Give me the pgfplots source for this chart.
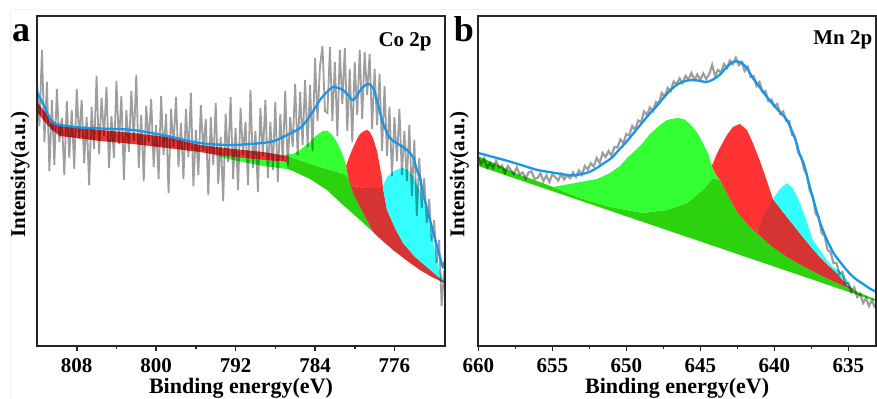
\documentclass[border=0pt]{standalone}
\usepackage{fontspec}
\setmainfont{Liberation Serif}
\usepackage{pgfplots}
\pgfplotsset{compat=1.18}
\definecolor{lgreen}{RGB}{51,255,51}
\definecolor{dgreen}{RGB}{45,210,15}
\definecolor{bred}{RGB}{255,51,51}
\definecolor{dred}{RGB}{214,51,51}
\definecolor{bcyan}{RGB}{51,255,255}
\definecolor{bandred}{RGB}{240,52,52}
\definecolor{datagray}{RGB}{158,158,158}
\definecolor{fitblue}{RGB}{25,150,230}
\pgfplotsset{xps/.style={
  scale only axis, height=165pt, ymin=0, ymax=330, ytick=\empty,
  x dir=reverse, axis on top,
  axis line style={black!85, line width=0.9pt},
  tick pos=left, tick align=outside,
  major tick length=2.6pt, minor tick length=1.6pt,
  every tick/.style={black!85, line width=0.8pt},
  minor x tick num=1,
  /pgf/number format/assume math mode=true,
  xticklabel style={font=\fontsize{10.5}{12}\selectfont\bfseries},
  xlabel={Binding energy(eV)},
  xlabel style={font=\fontsize{11}{13}\selectfont\bfseries, at={(axis description cs:0.5,0)}, anchor=center, yshift=-21pt},
  ylabel={Intensity(a.u.)},
  ylabel style={font=\fontsize{10.5}{12}\selectfont\bfseries, at={(axis description cs:0,0.52)}, anchor=center},
}}
\begin{document}
\begin{tikzpicture}
\path[use as bounding box] (0,0) rectangle (438.5pt,199.5pt);
\draw[gray!12, line width=0.5pt] (5pt,0) -- (5pt,194.5pt) -- (438.5pt,194.5pt);
% ---------------- panel a ----------------
\begin{axis}[xps, at={(18.5pt,26.5pt)}, anchor=south west, width=204pt,
  xmin=770.91, xmax=812, xtick={808,800,792,784,776},
  ylabel style={yshift=8.5pt}]
% red band
\addplot[fill=bandred, draw=none] coordinates {
(812.00,244) (811.19,234) (810.49,226) (809.68,220) (805.66,216) (802.33,213) (798.91,209) (795.59,201) (792.26,197) (789.24,194) (786.82,190)
(786.82,184) (789.24,186) (792.26,189) (793.87,191) (795.59,194) (798.91,198) (802.33,202) (805.66,205) (809.68,210) (810.49,216) (811.19,224) (812.00,234)};
% green strip
\addplot[fill=lgreen, draw=none] coordinates {
(793.87,191) (792.26,189) (789.24,186) (786.82,184) (786.82,177) (789.24,180) (792.26,186) (793.87,190)};
% dark green
\addplot[fill=dgreen, draw=none] coordinates {
(786.82,190) (786.22,188) (783.80,180) (781.79,174) (780.88,171) (780.58,167)
(780.18,153) (779.47,139) (778.77,126) (778.16,114)
(779.47,126) (781.29,142) (782.80,156) (784.51,167) (786.22,175) (786.82,177)};
% bright green peak
\addplot[fill=lgreen, draw=none] coordinates {
(787.23,191) (786.22,192) (785.51,196) (784.51,204) (783.80,211) (783.20,215) (782.70,215) (782.19,210) (781.69,202) (781.29,193) (780.98,184) (780.78,175) (780.58,167)
(780.88,171) (781.79,174) (783.80,180) (786.22,188) (787.23,191)};
% bright red peak
\addplot[fill=bred, draw=none] coordinates {
(780.88,180) (780.48,191) (780.18,198) (779.77,207) (779.47,212) (779.07,215) (778.77,216) (778.47,214) (778.16,208) (777.76,195) (777.46,179) (777.26,168) (777.16,158)
(777.86,158) (778.97,158) (780.18,160) (780.58,166) (780.78,175)};
% dark red
\addplot[fill=dred, draw=none] coordinates {
(780.58,166) (780.18,160) (778.97,158) (777.86,158) (777.16,158)
(776.75,136) (775.95,118) (775.14,103) (773.93,89) (772.73,79) (771.92,72) (771.21,66) (770.91,64)
(770.91,63) (771.21,64) (772.42,70) (773.43,76) (774.44,83) (776.15,96) (777.76,110) (778.16,114)
(778.77,126) (779.47,139) (780.18,153)};
% cyan
\addplot[fill=bcyan, draw=none] coordinates {
(777.16,160) (776.75,169) (776.15,174) (775.65,177) (775.14,178) (774.64,176) (774.14,170) (773.63,160) (773.13,146) (772.62,128) (772.22,109) (771.82,91) (771.42,74) (771.11,67) (770.91,64)
(771.21,66) (771.92,72) (772.73,79) (773.93,89) (775.14,103) (775.95,118) (776.75,136) (777.16,158)};
% raw data
\addplot[datagray, line width=0.9pt, blend mode=multiply] coordinates {
(812.00,265) (811.75,220) (811.50,296) (811.25,204) (811.00,264) (810.75,175) (810.50,246) (810.25,181) (810.00,257) (809.75,204)
(809.50,228) (809.25,171) (809.00,245) (808.75,188) (808.50,236) (808.25,177) (808.00,257) (807.75,207) (807.50,246) (807.25,183)
(807.00,229) (806.75,161) (806.50,239) (806.25,197) (806.00,270) (805.75,192) (805.50,248) (805.25,210) (805.00,259) (804.75,178)
(804.50,230) (804.25,188) (804.00,265) (803.75,202) (803.50,250) (803.25,166) (803.00,236) (802.75,194) (802.50,255) (802.25,205)
(802.00,271) (801.75,178) (801.50,231) (801.25,165) (801.00,240) (800.75,204) (800.50,247) (800.25,179) (800.00,221) (799.75,167)
(799.50,250) (799.25,191) (799.00,232) (798.75,153) (798.50,237) (798.25,199) (798.00,249) (797.75,179) (797.50,223) (797.25,167)
(797.00,237) (796.75,189) (796.50,253) (796.25,160) (796.00,216) (795.75,171) (795.50,241) (795.25,195) (795.00,227) (794.75,151)
(794.50,229) (794.25,181) (794.00,243) (793.75,162) (793.50,209) (793.25,145) (793.00,232) (792.75,184) (792.50,249) (792.25,167)
(792.00,218) (791.75,156) (791.50,238) (791.25,191) (791.00,224) (790.75,161) (790.50,256) (790.25,178) (790.00,215) (789.75,154)
(789.50,238) (789.25,190) (789.00,246) (788.75,168) (788.50,224) (788.25,176) (788.00,244) (787.75,164) (787.50,232) (787.25,185)
(787.00,255) (786.75,180) (786.50,229) (786.25,199) (786.00,262) (785.75,191) (785.50,254) (785.25,201) (785.00,266) (784.75,199)
(784.50,261) (784.25,195) (784.00,288) (783.75,225) (783.50,280) (783.25,300) (783.00,235) (782.75,233) (782.50,299) (782.25,225)
(782.00,284) (781.75,210) (781.50,296) (781.25,242) (781.00,298) (780.75,215) (780.50,277) (780.25,204) (780.00,284) (779.75,231)
(779.50,296) (779.25,227) (779.00,294) (778.75,251) (778.50,292) (778.25,217) (778.00,277) (777.75,221) (777.50,272) (777.25,195)
(777.00,260) (776.75,190) (776.50,239) (776.25,170) (776.00,229) (775.75,185) (775.50,237) (775.25,171) (775.00,215) (774.75,165)
(774.50,221) (774.25,150) (774.00,206) (773.75,130) (773.50,188) (773.25,138) (773.00,168) (772.75,123) (772.50,147) (772.25,105)
(772.00,126) (771.75,83) (771.50,106) (771.25,40) (771.00,75)};
% fit envelope
\addplot[fitblue, line width=1.15pt, smooth] coordinates {
(812.00,254) (811.19,238) (810.69,227) (810.39,223) (809.68,221) (807.67,218.5) (805.66,217.5) (802.33,216) (798.91,210) (795.59,203)
(792.26,201) (788.54,204) (787.23,209) (785.51,218) (784.51,230) (783.50,246) (782.80,254) (782.19,259) (781.69,258) (781.19,256)
(780.69,251) (780.18,246) (779.67,252) (779.27,258) (778.67,262) (778.16,258) (777.66,242) (777.16,223) (776.45,208) (775.45,201)
(774.74,196) (774.14,189) (773.74,176) (773.43,169) (773.13,153) (772.43,126) (771.92,107) (771.42,89) (771.11,79) (770.91,86)};
\end{axis}
% ---------------- panel b ----------------
\begin{axis}[xps, at={(239.15pt,26.5pt)}, anchor=south west, width=198.85pt,
  xmin=633.13, xmax=660, xtick={660,655,650,645,640,635},
  ylabel style={yshift=9.5pt}]
% dark green base
\addplot[fill=dgreen, draw=none] coordinates {
(660.00,190) (658.53,180) (657.18,171) (656.03,165) (654.95,159) (653.13,148) (651.10,139) (648.87,133) (647.26,136) (645.91,143)
(644.83,156) (644.15,168) (643.68,166) (642.53,134) (641.45,116) (641.18,113) (640.30,101) (639.15,89) (638.07,80) (636.92,71)
(635.91,64) (634.69,56) (633.07,46) (633.07,44.5) (660.00,180)};
% light green peak
\addplot[fill=lgreen, draw=none] coordinates {
(654.95,159) (653.47,163) (651.98,167) (651.10,173) (650.43,180) (649.95,188) (649.07,200) (648.40,212) (647.72,221) (647.26,226)
(646.58,228) (646.10,227) (645.70,222) (645.23,214) (644.83,203) (644.49,193) (644.22,180) (643.95,172) (643.68,166)
(644.15,168) (644.83,156) (645.91,143) (647.26,136) (648.87,133) (651.10,139) (653.13,148)};
% bright red
\addplot[fill=bred, draw=none] coordinates {
(644.22,180) (643.95,190) (643.68,198) (643.20,211) (642.80,219) (642.32,222) (641.85,216) (641.45,203) (640.97,185) (640.50,165) (640.10,147)
(640.43,137) (640.77,128) (641.18,113) (641.45,116) (642.53,134) (643.68,166) (643.95,172)};
% dark red
\addplot[fill=dred, draw=none] coordinates {
(641.18,113) (640.77,129) (640.43,138) (640.10,147)
(639.62,138) (639.15,129) (638.61,119) (638.07,109) (637.46,98) (636.92,89) (636.31,80) (635.77,73) (635.10,61) (634.76,58)
(634.69,56) (635.91,64) (636.92,71) (638.07,80) (639.15,89) (640.30,101)};
% cyan
\addplot[fill=bcyan, draw=none] coordinates {
(640.10,147) (639.62,157) (639.15,163) (638.75,158) (638.27,143) (637.80,124) (637.40,106) (636.92,96) (636.45,86) (636.05,79) (635.57,75) (635.10,66) (634.76,58)
(635.10,61) (635.77,73) (636.31,80) (636.92,89) (637.46,98) (638.07,109) (638.61,119) (639.15,129) (639.62,138)};
% raw data
\addplot[datagray, line width=1.1pt, blend mode=multiply] coordinates {
(660.0,188) (659.8,182) (659.6,187.5) (659.4,178.5) (659.2,183) (659.0,178) (658.8,185) (658.6,178.5) (658.4,180.5) (658.2,173)
(658.0,180) (657.8,176) (657.6,172) (657.4,178.5) (657.2,171.5) (657.0,173.5) (656.8,167.5) (656.6,173.5) (656.4,174.5) (656.2,167)
(656.0,168) (655.8,172.5) (655.6,165) (655.4,170.5) (655.2,164) (655.0,171.5) (654.8,169) (654.6,165.5) (654.4,172) (654.2,166.5)
(654.0,171) (653.8,167.8) (653.6,173.5) (653.4,169) (653.2,175.5) (653.0,171) (652.8,180) (652.6,176.5) (652.4,182.8) (652.2,179.4)
(652.0,188) (651.8,183) (651.6,193) (651.4,189) (651.2,195) (651.0,190) (650.8,199) (650.6,198.5) (650.4,206.5) (650.2,202.8)
(650.0,212) (649.8,210.6) (649.6,220) (649.4,216) (649.2,225.5) (649.0,224) (648.8,234.5) (648.6,231) (648.4,238.5) (648.2,235)
(648.0,244) (647.8,242.5) (647.6,253) (647.4,249.5) (647.2,258) (647.0,255) (646.8,264.5) (646.6,262) (646.4,267.5) (646.2,263)
(646.0,270) (645.8,266.5) (645.6,273) (645.4,266) (645.2,271.5) (645.0,266) (644.8,272.5) (644.6,267) (644.4,272) (644.2,281)
(644.0,270) (643.8,276) (643.6,273.5) (643.4,282) (643.2,278) (643.0,285.5) (642.8,282) (642.6,288.3) (642.4,281) (642.2,284)
(642.0,275) (641.8,279) (641.6,269) (641.4,270) (641.2,260) (641.0,264) (640.8,254) (640.6,255) (640.4,245) (640.2,246.5)
(640.0,240) (639.8,242) (639.6,232) (639.4,234.5) (639.2,225) (639.0,225) (638.8,211) (638.6,209.5) (638.4,194) (638.2,190)
(638.0,177) (637.8,171) (637.6,155) (637.4,149.5) (637.2,132) (637.0,129) (636.8,113) (636.6,110) (636.4,96) (636.2,94)
(636.0,83) (635.8,83) (635.6,72) (635.4,74) (635.2,62.5) (635.0,63) (634.8,54) (634.6,58.5) (634.4,49) (634.2,52)
(634.0,43) (633.8,48) (633.6,40) (633.4,46) (633.2,38)};
% fit envelope
\addplot[fitblue, line width=1.15pt, smooth] coordinates {
(660.0,193) (659,189) (658,185) (657,180.5) (656,176) (655,173.5) (654,171) (653.6,170.5) (653,172) (652.5,174)
(652,178) (651.5,183) (651,188) (650.5,196) (650,204) (649.5,213) (649,222) (648.5,231) (648,239) (647.5,248)
(647,256) (646.5,262) (646,265) (645.5,266) (645,265) (644.6,264) (644.2,266) (643.7,271) (643.2,279) (642.8,284)
(642.5,284.5) (642.2,283) (641.8,277) (641.5,269) (641,259) (640.5,249) (640,240) (639.5,232) (639.15,226) (638.75,213)
(638.5,203) (638.28,191) (638,182) (637.6,159) (637.2,138) (636.9,123) (636.5,108) (636,93) (635.5,83) (635,74)
(634.5,67) (634,62) (633.5,57) (633.1,54)};
\end{axis}
% panel letters and element labels
\node[anchor=base, font=\fontsize{18}{20}\selectfont\bfseries, inner sep=0pt] at (10.5pt,178.5pt) {a};
\node[anchor=base, font=\fontsize{18}{20}\selectfont\bfseries, inner sep=0pt] at (232pt,178.5pt) {b};
\node[anchor=base east, font=\fontsize{10.5}{12}\selectfont\bfseries, inner sep=0pt] at (216pt,176pt) {Co 2p};
\node[anchor=base east, font=\fontsize{10.5}{12}\selectfont\bfseries, inner sep=0pt] at (436.3pt,177pt) {Mn 2p};
\end{tikzpicture}
\end{document}
